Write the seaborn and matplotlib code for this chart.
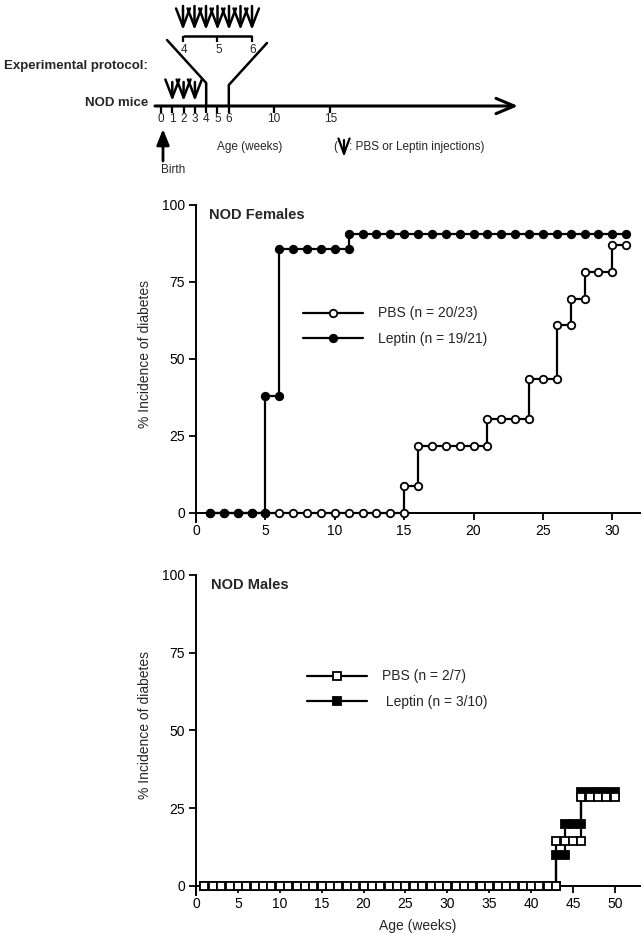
import numpy as np
import pandas as pd
import matplotlib
matplotlib.use("Agg")
import matplotlib.pyplot as plt
import seaborn as sns

# ---------------- data ----------------
fem_weeks = list(range(1, 32))
fem_pbs = [0, 0, 0, 0, 0, 0, 0, 0, 0, 0, 0, 0, 0, 0, 8.7,
           21.7, 21.7, 21.7, 21.7, 21.7, 30.4, 30.4, 30.4, 43.5, 43.5,
           60.9, 69.6, 78.3, 78.3, 87.0, 87.0]
fem_lep = [0, 0, 0, 0, 38.1, 85.7, 85.7, 85.7, 85.7, 85.7,
           90.5, 90.5, 90.5, 90.5, 90.5, 90.5, 90.5, 90.5, 90.5, 90.5,
           90.5, 90.5, 90.5, 90.5, 90.5, 90.5, 90.5, 90.5, 90.5, 90.5, 90.5]
fem_labels = ["PBS (n = 20/23)", "Leptin (n = 19/21)"]

male_weeks = list(range(1, 51))
male_pbs = [0, 0, 0, 0, 0, 0, 0, 0, 0, 0, 0, 0, 0, 0, 0, 0, 0, 0, 0, 0,
            0, 0, 0, 0, 0, 0, 0, 0, 0, 0, 0, 0, 0, 0, 0, 0, 0, 0, 0, 0,
            0, 0, 14.3, 14.3, 14.3, 28.6, 28.6, 28.6, 28.6, 28.6]
male_lep = [0, 0, 0, 0, 0, 0, 0, 0, 0, 0, 0, 0, 0, 0, 0, 0, 0, 0, 0, 0,
            0, 0, 0, 0, 0, 0, 0, 0, 0, 0, 0, 0, 0, 0, 0, 0, 0, 0, 0, 0,
            0, 0, 10, 20, 20, 30, 30, 30, 30, 30]
male_labels = ["PBS (n = 2/7)", " Leptin (n = 3/10)"]

yticks = [0, 25, 50, 75, 100]
fem_xticks = [0, 5, 10, 15, 20, 25, 30]
male_xticks = [0, 5, 10, 15, 20, 25, 30, 35, 40, 45, 50]

# protocol schematic
timeline_ticks = [0, 1, 2, 3, 4, 5, 6, 10, 15]
early_injections = [1, 2, 3]
inset_ticks = [4, 5, 6]
inset_injections = [4, 4 + 1/3, 4 + 2/3, 5, 5 + 1/3, 5 + 2/3, 6]

# ---------------- style ----------------
sns.set_style("ticks")
plt.rcParams['font.family'] = ['Liberation Sans', 'DejaVu Sans']
plt.rcParams['axes.linewidth'] = 1.4
plt.rcParams['xtick.major.width'] = 1.3
plt.rcParams['ytick.major.width'] = 1.3
plt.rcParams['xtick.major.size'] = 5
plt.rcParams['ytick.major.size'] = 5
plt.rcParams['xtick.color'] = 'black'
plt.rcParams['ytick.color'] = 'black'
plt.rcParams['axes.edgecolor'] = 'black'

W, H = 644, 936
fig = plt.figure(figsize=(W / 100, H / 100), dpi=100)


def step_points(weeks, vals):
    xs, ys = [weeks[0]], [vals[0]]
    for i in range(1, len(weeks)):
        if vals[i] != vals[i - 1]:
            xs.append(weeks[i]); ys.append(vals[i - 1])
        xs.append(weeks[i]); ys.append(vals[i])
    return pd.DataFrame({"week": xs, "pct": ys})


def draw_series(ax, weeks, vals, marker, filled, label, z):
    df = step_points(weeks, vals)
    sns.lineplot(data=df, x="week", y="pct", ax=ax, sort=False, estimator=None,
                 color="black", lw=1.6, marker=marker, markersize=5.4,
                 markerfacecolor="black" if filled else "white",
                 markeredgecolor="black", markeredgewidth=1.3,
                 label=label, zorder=z)


def style_axes(ax, xmax, xticks):
    ax.set_xlim(0, xmax)
    ax.set_ylim(-3, 100)
    ax.spines['bottom'].set_position(('data', 0))
    ax.spines['top'].set_visible(False)
    ax.spines['right'].set_visible(False)
    ax.set_yticks(yticks)
    ax.set_xticks(xticks)
    ax.tick_params(labelsize=10, pad=3)
    ax.set_ylabel("% Incidence of diabetes", fontsize=10)
    ax.yaxis.set_label_coords(-0.10, 0.53)


# ---------------- females ----------------
axf = fig.add_axes([196 / W, 1 - 522 / H, 444 / W, 317 / H])
draw_series(axf, fem_weeks, fem_pbs, "o", False, fem_labels[0], 3)
draw_series(axf, fem_weeks, fem_lep, "o", True, fem_labels[1], 4)
style_axes(axf, 32, fem_xticks)
axf.set_xlabel("")
axf.text(0.029, 0.968, "NOD Females", transform=axf.transAxes, fontsize=10.5,
         fontweight='bold', va='center', ha='left')
axf.legend(loc='upper left', bbox_to_anchor=(0.241, 0.68), frameon=False,
           fontsize=10, handlelength=4.3, handletextpad=1.1, labelspacing=0.85,
           borderpad=0, borderaxespad=0, numpoints=1)

# ---------------- males ----------------
axm = fig.add_axes([196 / W, 1 - 895 / H, 444 / W, 320 / H])
draw_series(axm, male_weeks, male_pbs, "s", False, male_labels[0], 4)
draw_series(axm, male_weeks, male_lep, "s", True, male_labels[1], 3)
style_axes(axm, 53, male_xticks)
axm.set_xlabel("Age (weeks)", fontsize=10, labelpad=6)
axm.text(0.034, 0.969, "NOD Males", transform=axm.transAxes, fontsize=10.5,
         fontweight='bold', va='center', ha='left')
h, l = axm.get_legend_handles_labels()
axm.legend(h, l, loc='upper left', bbox_to_anchor=(0.25, 0.705), frameon=False,
           fontsize=10, handlelength=4.3, handletextpad=1.1, labelspacing=0.85,
           borderpad=0, borderaxespad=0, numpoints=1)

# ---------------- protocol schematic ----------------
axd = fig.add_axes([0, 1 - 190 / H, 1, 190 / H])
axd.set_xlim(0, W)
axd.set_ylim(190, 0)
axd.axis('off')


def tx(w):
    return 161 + 11.3 * w


def ix(w):
    return 183 + 34.5 * (w - 4)


line_kw = dict(color='black', lw=1.6, solid_capstyle='butt')
# main timeline with arrow
axd.annotate('', xy=(518, 106), xytext=(155, 106),
             arrowprops=dict(arrowstyle='->,head_length=1.3,head_width=0.55',
                             lw=2.2, color='black', shrinkA=0, shrinkB=0))
for w in timeline_ticks:
    axd.plot([tx(w), tx(w)], [106, 113], **line_kw)
    axd.text(tx(w), 119.5, str(w), ha='center', va='center', fontsize=8.5)

# funnel
axd.plot([tx(4), tx(4), 167], [106, 83, 40], color='black', lw=1.8)
axd.plot([tx(6), tx(6), 267], [106, 85, 43], color='black', lw=1.8)

# inset bracket
axd.plot([ix(4), ix(6)], [36, 36], color='black', lw=1.8, solid_capstyle='butt')
for w in inset_ticks:
    axd.plot([ix(w), ix(w)], [36, 42], **line_kw)
    axd.text(ix(w) + 1, 50, str(w), ha='center', va='center', fontsize=8.5)

arrow_kw = dict(arrowstyle='->,head_length=1.3,head_width=0.5', lw=1.8,
                color='black', shrinkA=0, shrinkB=0)
for w in inset_injections:
    axd.annotate('', xy=(ix(w), 30), xytext=(ix(w), 6), arrowprops=arrow_kw)
for w in early_injections:
    axd.annotate('', xy=(tx(w), 101), xytext=(tx(w), 82), arrowprops=arrow_kw)

# birth arrow
axd.annotate('', xy=(tx(0) + 2, 129), xytext=(tx(0) + 2, 161),
             arrowprops=dict(arrowstyle='-|>,head_length=0.95,head_width=0.38',
                             lw=2, color='black', shrinkA=0, shrinkB=0))
axd.text(tx(0), 170, "Birth", ha='left', va='center', fontsize=8.5)

# labels
axd.text(148, 66, "Experimental protocol:", ha='right', va='center',
         fontsize=9.5, fontweight='bold')
axd.text(148, 103, "NOD mice", ha='right', va='center', fontsize=9.5,
         fontweight='bold')
axd.text(250, 147, "Age (weeks)", ha='center', va='center', fontsize=8.5)
axd.text(333, 147, "(", ha='left', va='center', fontsize=8.5)
axd.annotate('', xy=(344, 157), xytext=(344, 140),
             arrowprops=dict(arrowstyle='->,head_length=1.1,head_width=0.4',
                             lw=1.6, color='black', shrinkA=0, shrinkB=0))
axd.text(349, 147, ": PBS or Leptin injections)", ha='left', va='center',
         fontsize=8.5)

fig.savefig("out.png", dpi=100)
